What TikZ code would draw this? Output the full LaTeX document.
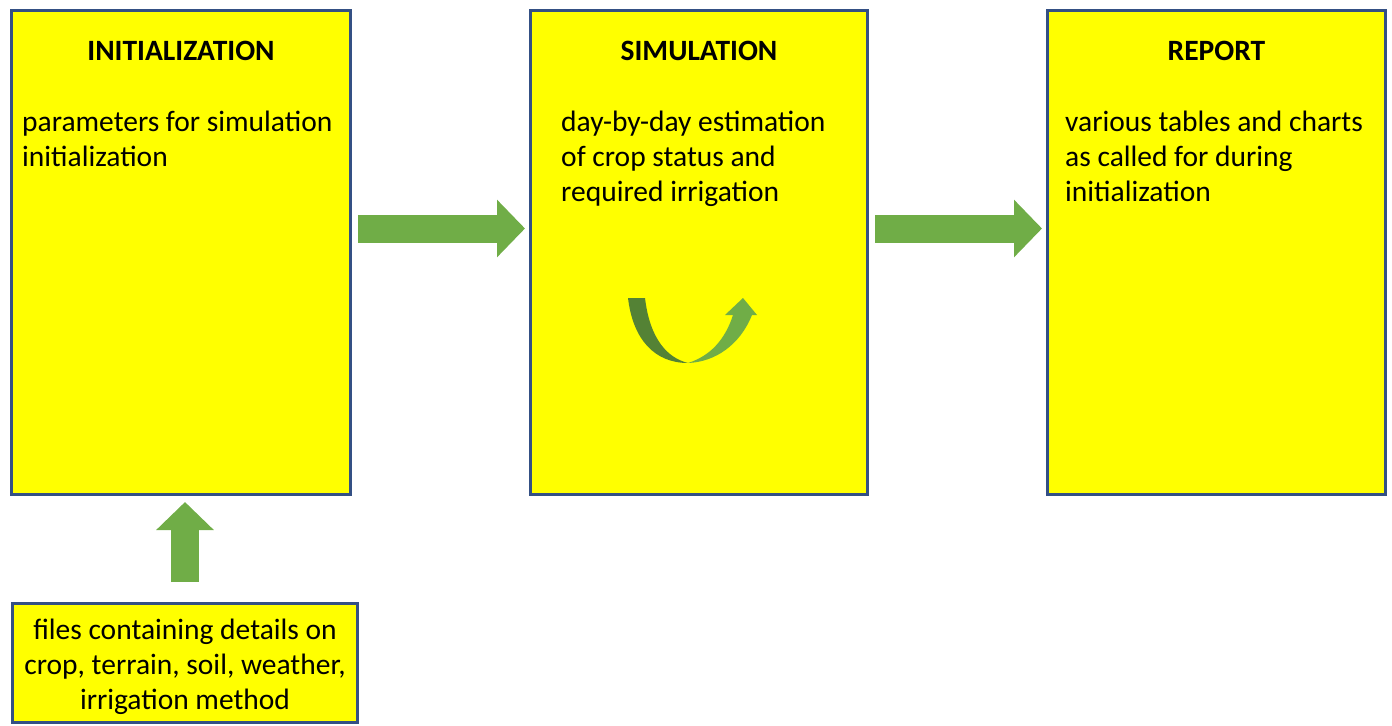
\documentclass[tikz,border=0pt]{standalone}
\usepackage{fontspec}
\setmainfont{Carlito}
\usetikzlibrary{positioning,calc,arrows.meta}
\definecolor{boxyellow}{RGB}{255,255,0}
\definecolor{boxblue}{RGB}{52,80,132}
\definecolor{flowgreen}{RGB}{112,173,71}
\definecolor{flowdark}{RGB}{84,130,53}
\begin{document}
\begin{tikzpicture}[x=1bp, y=-1bp, font=\fontsize{29.5bp}{35bp}\selectfont]
            \tikzset{stage/.style={rectangle, draw=boxblue, fill=boxyellow, line width=3bp,
                inner sep=0pt, anchor=north west},
              stagetitle/.style={font=\fontsize{29.5bp}{35bp}\selectfont\bfseries},
              stagetext/.style={anchor=north west, inner sep=0pt, align=left},
              flow/.style={flowgreen, line width=28bp, -{Triangle[width=56bp, length=28bp]}}}
        \useasboundingbox (0,0) rectangle (1392,725);

        \node[stage, minimum width=339bp, minimum height=483bp] (init) at (10,9.5) {};
        \node[stage, minimum width=337bp, minimum height=483bp] (sim) at (529,9.5) {};
        \node[stage, minimum width=338bp, minimum height=483bp] (report) at (1046,9.5) {};
        \node[stage, minimum width=345bp, minimum height=119bp] (files) at (11,602) {};

        \node[stagetitle] (initT) at ($(init.north)+(0,41)$) {INITIALIZATION};
        \node[stagetitle] (simT) at ($(sim.north)+(0,41)$) {SIMULATION};
        \node[stagetitle] (reportT) at ($(report.north)+(0,41)$) {REPORT};

        \node[stagetext] (initX) at ($(init.north west)+(12,101)$) {parameters for simulation\\ initialization};
        \node[stagetext] (simX) at ($(sim.north west)+(32,101)$) {day-by-day estimation\\ of crop status and\\ required irrigation};
        \node[stagetext] (reportX) at ($(report.north west)+(19,101)$) {various tables and charts\\ as called for during\\ initialization};
        \node[align=center, inner sep=0pt] (filesX) at ($(files.center)+(0,4)$)
            {files containing details on\\ crop, terrain, soil, weather,\\ irrigation method};

        \coordinate (a1) at ($(init.north east)+(6,219)$);
        \coordinate (a1e) at ($(sim.north west)+(-4,219)$);
        \coordinate (a2) at ($(sim.north east)+(6,219)$);
        \coordinate (a2e) at ($(report.north west)+(-4,219)$);
        \draw[flow] (a1) -- (a1e);
        \draw[flow] (a2) -- (a2e);
        \draw[flow] ($(files.north)+(0,-20)$) -- ($(files.north |- init.south)+(0,6.5)$);

        % loop arrow in the simulation box
        \fill[flowdark] (628,298) .. controls (633,340) and (655,363) .. (688,363)
            .. controls (668,358) and (650,340) .. (645,298) -- cycle;
        \fill[flowgreen] (688,363) .. controls (715,362) and (740,345) .. (752,315)
            -- (757,315) -- (743,298) -- (725,315) -- (733,315)
            .. controls (725,340) and (710,356) .. (688,363) -- cycle;

        \end{tikzpicture}
\end{document}
